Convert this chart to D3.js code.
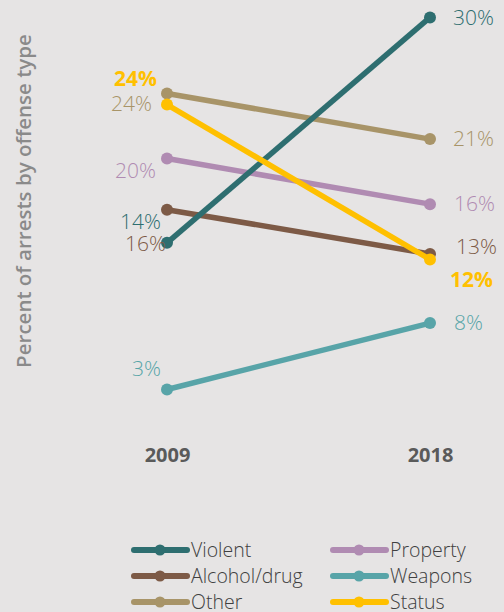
<!DOCTYPE html>
<html>
<head>
<meta charset="utf-8">
<script src="https://cdn.jsdelivr.net/npm/d3@7"></script>
<style>
  html, body { margin: 0; padding: 0; background: #e6e4e4; }
  svg { display: block; font-family: "Open Sans", "Noto Sans", sans-serif; }
</style>
</head>
<body>
<svg id="chart" width="504" height="612"></svg>
<script>
// data
const years = ["2009", "2018"];
const series = ["Weapons", "Alcohol/drug", "Property", "Other", "Violent", "Status"];
const values2009 = [3.0, 16.0, 19.7, 24.4, 13.6, 23.6];
const values2018 = [7.8, 12.8, 16.4, 21.1, 29.9, 12.4];
const labels2009 = ["3%", "16%", "20%", "24%", "14%", "24%"];
const labels2018 = ["8%", "13%", "16%", "21%", "30%", "12%"];
const colors = ["#58a4a8", "#7d5a46", "#b08bb2", "#a89468", "#2e6e70", "#ffc000"];
const boldLabel = [false, false, false, false, false, true];
const legendOrder = ["Violent", "Property", "Alcohol/drug", "Weapons", "Other", "Status"];

// label nudges so they don't collide (dx, dy)
const leftNudge = [[-6, -21], [-1, 34], [-11, 12], [-15, 10], [-6, -21], [-10, -26]];
const rightNudge = [[24, 0], [26, -7], [24, 0], [23, 0], [23, 0], [20, 20]];

const svg = d3.select("#chart");

const x = d3.scalePoint().domain(years).range([167, 430]);
const y = d3.scaleLinear().domain([0, 30]).range([431, 16]);

const rows = series.map((s, i) => ({
  name: s, color: colors[i], bold: boldLabel[i],
  pts: [values2009[i], values2018[i]],
  labels: [labels2009[i], labels2018[i]],
  nudge: [leftNudge[i], rightNudge[i]]
}));

// axis title
svg.append("text")
  .attr("transform", "translate(31,201) rotate(-90)")
  .attr("text-anchor", "middle")
  .attr("fill", "#8a8a8a")
  .style("font-size", "20.5px")
  .style("font-weight", 600)
  .text("Percent of arrests by offense type");

// year labels
const xAxis = svg.append("g")
  .attr("transform", "translate(0,462)")
  .call(d3.axisBottom(x).tickSize(0).tickPadding(0));
xAxis.select(".domain").remove();
xAxis.selectAll("text")
  .attr("fill", "#5a5a5a")
  .attr("dy", 0)
  .style("font-size", "20px")
  .style("font-weight", 700)
  .style("font-family", "'Open Sans', sans-serif");

const line = d3.line().x((d, i) => x(years[i])).y(d => y(d));

const g = svg.selectAll("g.series")
  .data(rows)
  .enter()
  .append("g")
  .attr("class", "series");

g.append("path")
  .attr("d", d => line(d.pts))
  .attr("fill", "none")
  .attr("stroke", d => d.color)
  .attr("stroke-width", 5.5);

g.selectAll("circle")
  .data(d => d.pts.map(v => ({ v, c: d.color })))
  .enter()
  .append("circle")
  .attr("cx", (d, i) => x(years[i]))
  .attr("cy", d => y(d.v))
  .attr("r", 6)
  .attr("fill", d => d.c);

// value labels
rows.forEach(r => {
  r.pts.forEach((v, i) => {
    svg.append("text")
      .attr("x", x(years[i]) + r.nudge[i][0])
      .attr("y", y(v) + r.nudge[i][1])
      .attr("dy", "0.35em")
      .attr("text-anchor", i === 0 ? "end" : "start")
      .attr("fill", r.color)
      .style("font-size", "21px")
      .style("font-weight", r.bold ? 700 : 300)
      .text(r.labels[i]);
  });
});

// legend
const legend = svg.append("g");
legendOrder.forEach((name, k) => {
  const r = rows.find(d => d.name === name);
  const col = k % 2, row = Math.floor(k / 2);
  const lx = col === 0 ? 132 : 331;
  const ly = 550 + row * 26;
  const item = legend.append("g").attr("transform", `translate(${lx},${ly})`);
  item.append("line")
    .attr("x1", 2).attr("x2", 55)
    .attr("stroke", r.color)
    .attr("stroke-width", 6)
    .attr("stroke-linecap", "round");
  item.append("circle").attr("cx", 28).attr("r", 5.5).attr("fill", r.color);
  item.append("text")
    .attr("x", 59)
    .attr("dy", "0.35em")
    .attr("fill", "#404040")
    .style("font-size", "19.5px")
    .style("font-weight", 300)
    .text(name);
});
</script>
</body>
</html>
